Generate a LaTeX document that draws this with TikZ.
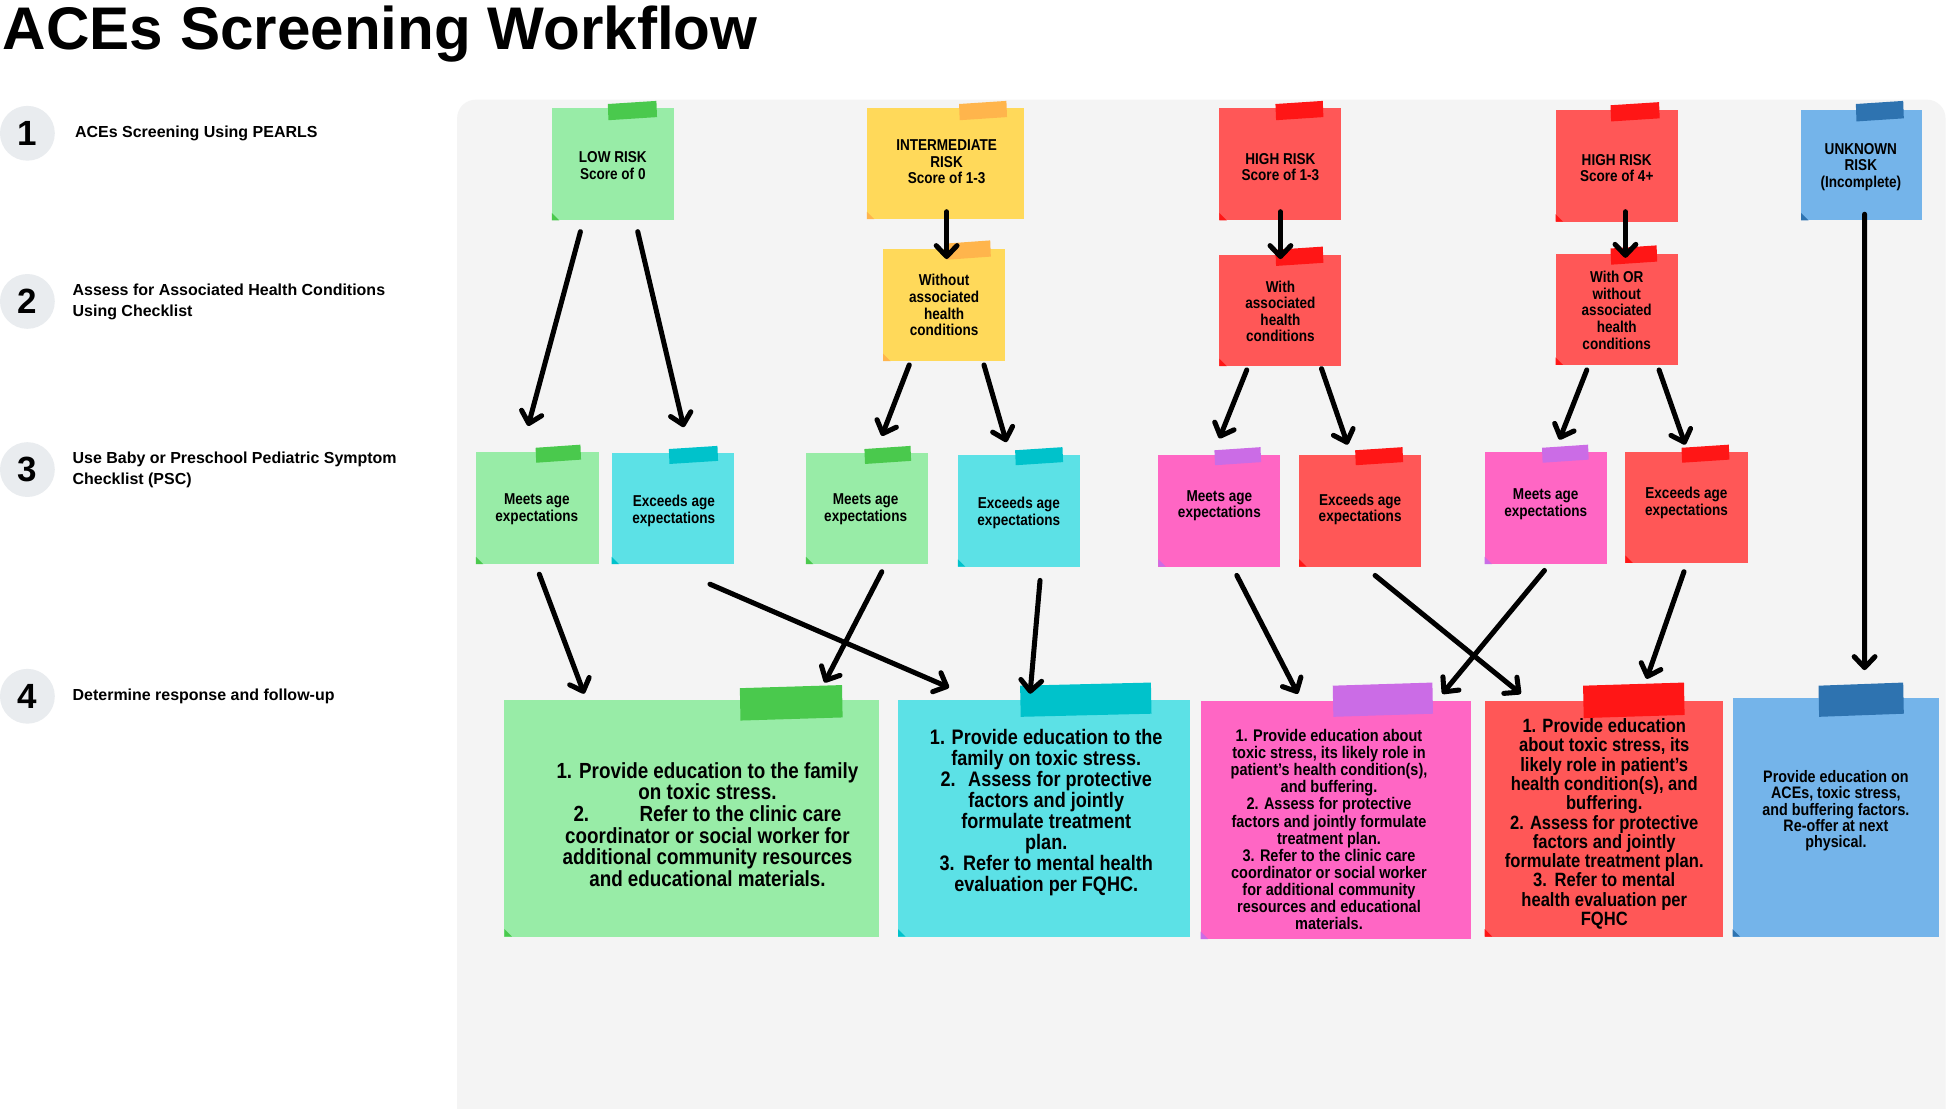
\documentclass[tikz,border=0pt]{standalone}
\usepackage{fontspec}
\setmainfont{Liberation Sans}
\newfontfamily\notefont[FakeStretch=0.86]{Liberation Sans}
\usetikzlibrary{arrows.meta,calc}
\definecolor{panel}{HTML}{F4F4F4}
\definecolor{circg}{HTML}{E9ECEF}
\definecolor{gnote}{HTML}{98ECA7}
\definecolor{gtape}{HTML}{4AC94D}
\definecolor{ynote}{HTML}{FFD95A}
\definecolor{otape}{HTML}{FFB54C}
\definecolor{rnote}{HTML}{FF5757}
\definecolor{rtape}{HTML}{FF1616}
\definecolor{cnote}{HTML}{5CE1E6}
\definecolor{ctape}{HTML}{00C2CB}
\definecolor{pnote}{HTML}{FF66C4}
\definecolor{ptape}{HTML}{CB6CE6}
\definecolor{bnote}{HTML}{74B4EA}
\definecolor{btape}{HTML}{2E73B0}
\newcommand\stickynote[7]{%
  \node[notebox, fill=#6, minimum width={(#4-#2)*0.02cm}, minimum height={(#5-#3)*0.02cm}] (#1) at ({(#2+#4)/2},{(#3+#5)/2}) {};
  \fill[#7] (#2,#5) -- (#2,#5-6) -- (#2+6,#5) -- cycle;}
\newcommand\tapestrip[5]{\fill[#5] (#1,#3+2.5) -- (#2,#3) -- (#2+0.5,#3+#4) -- (#1+0.5,#3+#4+2.5) -- cycle;}
\begin{document}
\begin{tikzpicture}[x=0.02cm,y=-0.02cm,
  notebox/.style={inner sep=0, outer sep=0, draw=none},
  ntxt/.style={inner sep=0, align=center, text=black},
  smalltxt/.style={ntxt, font=\notefont\bfseries\fontsize{7.2}{7.6}\selectfont},
  arr/.style={line width=2.3pt, line cap=round, -{Straight Barb[length=5pt,width=9.5pt,round]}},
  steplabel/.style={inner sep=0, anchor=west, align=left, font=\bfseries\fontsize{7.3}{9.6}\selectfont},
  badge/.style={circle, fill=circg, inner sep=0, minimum size=44*0.02cm, font=\bfseries\fontsize{16}{16}\selectfont}]
\fill[white] (0,0) rectangle (1568,890);
\useasboundingbox (0,0) rectangle (1568,890);
\fill[panel, rounded corners=0.3cm] (367,80) rectangle (1562,940);

% title
\node[anchor=base west, inner sep=0, font=\bfseries\fontsize{27.5}{30}\selectfont] (title) at (2,40) {ACEs Screening Workflow};

% steps
\node[badge] (c1) at (22,107) {1};
\node[badge] (c2) at (22,242) {2};
\node[badge] (c3) at (22,377) {3};
\node[badge] (c4) at (22,559) {4};
\node[steplabel] (s1) at (60,107) {ACEs Screening Using PEARLS};
\node[steplabel] (s2) at (58,242) {Assess for Associated Health Conditions\\Using Checklist};
\node[steplabel] (s3) at (58,377) {Use Baby or Preschool Pediatric Symptom\\Checklist (PSC)};
\node[steplabel] (s4) at (58,559) {Determine response and follow-up};

% row 1
\stickynote{low}{443}{87}{541}{177}{gnote}{gtape}
\tapestrip{488}{527}{81}{13}{gtape}
\stickynote{inter}{696}{87}{822}{176}{ynote}{otape}
\tapestrip{770}{808}{81}{13}{otape}
\stickynote{hr1}{979}{87}{1077}{177}{rnote}{rtape}
\tapestrip{1024}{1062}{81}{13}{rtape}
\stickynote{hr4}{1249}{88}{1347}{178}{rnote}{rtape}
\tapestrip{1293}{1332}{82}{13}{rtape}
\stickynote{unk}{1446}{88}{1543}{177}{bnote}{btape}
\tapestrip{1490}{1528}{81}{14}{btape}
% row 2
\stickynote{without}{709}{200}{807}{290}{ynote}{otape}
\tapestrip{760}{795}{193}{13}{otape}
\stickynote{with}{979}{205}{1077}{294}{rnote}{rtape}
\tapestrip{1024}{1062}{198}{13}{rtape}
\stickynote{withor}{1249}{204}{1347}{293}{rnote}{rtape}
\tapestrip{1293}{1330}{197}{13}{rtape}
% row 3
\stickynote{m1}{382}{363}{481}{453}{gnote}{gtape}
\tapestrip{430}{466}{357}{12}{gtape}
\stickynote{e1}{491}{364}{589}{453}{cnote}{ctape}
\tapestrip{537}{576}{358}{12}{ctape}
\stickynote{m2}{647}{364}{745}{453}{gnote}{gtape}
\tapestrip{694}{731}{358}{12}{gtape}
\stickynote{e2}{769}{365}{867}{455}{cnote}{ctape}
\tapestrip{815}{853}{359}{12}{ctape}
\stickynote{m3}{930}{365}{1028}{455}{pnote}{ptape}
\tapestrip{975}{1012}{359}{12}{ptape}
\stickynote{e3}{1043}{365}{1141}{455}{rnote}{rtape}
\tapestrip{1088}{1126}{359}{12}{rtape}
\stickynote{m4}{1192}{363}{1290}{453}{pnote}{ptape}
\tapestrip{1238}{1275}{357}{12}{ptape}
\stickynote{e4}{1305}{363}{1403}{452}{rnote}{rtape}
\tapestrip{1350}{1388}{357}{12}{rtape}
% row 4
\stickynote{r1}{405}{562}{706}{752}{gnote}{gtape}
\tapestrip{594}{676}{550}{26}{gtape}
\stickynote{r2}{721}{562}{955}{752}{cnote}{ctape}
\tapestrip{819}{924}{548}{25}{ctape}
\stickynote{r3}{964}{563}{1181}{754}{pnote}{ptape}
\tapestrip{1070}{1150}{548}{25}{ptape}
\stickynote{r4}{1192}{563}{1383}{752}{rnote}{rtape}
\tapestrip{1271}{1352}{548}{26}{rtape}
\stickynote{r5}{1391}{560}{1557}{752}{bnote}{btape}
\tapestrip{1460}{1528}{548}{25}{btape}

% texts
\node[smalltxt] (lowT) at (492,133) {LOW RISK\\Score of 0};
\node[smalltxt] (interT) at (760,130) {INTERMEDIATE\\RISK\\Score of 1-3};
\node[smalltxt] (hr1T) at (1028,134) {HIGH RISK\\Score of 1-3};
\node[smalltxt] (hr4T) at (1298,135) {HIGH RISK\\Score of 4+};
\node[smalltxt] (unkT) at (1494,134) {UNKNOWN\\RISK\\(Incomplete)};
\node[smalltxt] (withoutT) at (758,245) {Without\\associated\\health\\conditions};
\node[smalltxt] (withT) at (1028,250) {With\\associated\\health\\conditions};
\node[smalltxt] (withorT) at (1298,249) {With OR\\without\\associated\\health\\conditions};
\node[smalltxt] (m1T) at (431,409) {Meets age\\expectations};
\node[smalltxt] (e1T) at (541,410) {Exceeds age\\expectations};
\node[smalltxt] (m2T) at (695,409) {Meets age\\expectations};
\node[smalltxt] (e2T) at (818,412) {Exceeds age\\expectations};
\node[smalltxt] (m3T) at (979,406) {Meets age\\expectations};
\node[smalltxt] (e3T) at (1092,409) {Exceeds age\\expectations};
\node[smalltxt] (m4T) at (1241,405) {Meets age\\expectations};
\node[smalltxt] (e4T) at (1354,404) {Exceeds age\\expectations};

\node[ntxt, font=\notefont\bfseries\fontsize{10}{9.9}\selectfont] (r1T) at (568,662)
  {1. Provide education to the family\\on toxic stress.\\2.\hspace{2.3em}Refer to the clinic care\hspace*{1.5em}\\coordinator or social worker for\\additional community resources\\and educational materials.};
\node[ntxt, font=\notefont\bfseries\fontsize{9.6}{9.6}\selectfont] (r2T) at (840,652)
  {1. Provide education to the\\family on toxic stress.\\2.\hspace{0.6em}Assess for protective\\factors and jointly\\formulate treatment\\plan.\\3.\hspace{0.4em}Refer to mental health\\evaluation per FQHC.};
\node[ntxt, font=\notefont\bfseries\fontsize{7.7}{7.8}\selectfont] (r3T) at (1067,666)
  {1. Provide education about\\toxic stress, its likely role in\\patient’s health condition(s),\\and buffering.\\2. Assess for protective\\factors and jointly formulate\\treatment plan.\\3. Refer to the clinic care\\coordinator or social worker\\for additional community\\resources and educational\\materials.};
\node[ntxt, font=\notefont\bfseries\fontsize{8.8}{8.8}\selectfont] (r4T) at (1288,661.5)
  {1. Provide education\\about toxic stress, its\\likely role in patient’s\\health condition(s), and\\buffering.\\2. Assess for protective\\factors and jointly\\formulate treatment plan.\\3.\hspace{0.4em}Refer to mental\\health evaluation per\\FQHC};
\node[ntxt, font=\notefont\bfseries\fontsize{7.6}{7.5}\selectfont] (r5T) at (1474,651)
  {Provide education on\\ACEs, toxic stress,\\and buffering factors.\\Re-offer at next\\physical.};

% connectors
\draw[arr] ($(low.south)+(-26,9)$) -- ($(m1.north)+(-7.5,-21)$);
\draw[arr] ($(low.south)+(20,9)$) -- ($(e1.north)+(9,-21)$);
\draw[arr] ($(inter.south)+(1,-6)$) -- ($(without.north)+(2,8)$);
\draw[arr] ($(without.south)+(-28,3)$) -- ($(m2.north)+(12,-14)$);
\draw[arr] ($(without.south)+(32,3)$) -- ($(e2.north)+(-10,-10)$);
\draw[arr] ($(hr1.south)+(0,-7)$) -- ($(with.north)+(0,3)$);
\draw[arr] ($(with.south)+(-27,3)$) -- ($(m3.north)+(0,-13)$);
\draw[arr] ($(with.south)+(33,2)$) -- ($(e3.north)+(-10,-8)$);
\draw[arr] ($(hr4.south)+(7,-8)$) -- ($(withor.north)+(7,3)$);
\draw[arr] ($(withor.south)+(-24,4)$) -- ($(m4.north)+(11,-10)$);
\draw[arr] ($(withor.south)+(34,4)$) -- ($(e4.north)+(-1,-6)$);
\draw[arr] ($(unk.south)+(2.5,-5)$) -- ($(r5.north)+(23,-22)$);
\draw[arr] ($(m1.south)+(1.5,8)$) -- ($(r1.north)+(-86.5,-5)$);
\draw[arr] ($(e1.south)+(30,16)$) -- ($(r2.north)+(-76,-10)$);
\draw[arr] ($(m2.south)+(12,6)$) -- ($(r1.north)+(106.5,-14)$);
\draw[arr] ($(e2.south)+(17,11)$) -- ($(r2.north)+(-11,-5)$);
\draw[arr] ($(m3.south)+(14,7)$) -- ($(r3.north)+(-30.5,-6)$);
\draw[arr] ($(e3.south)+(12,7)$) -- ($(r4.north)+(-66.5,-6)$);
\draw[arr] ($(m4.south)+(-1,5)$) -- ($(r3.north)+(85.5,-6)$);
\draw[arr] ($(e4.south)+(-2,7)$) -- ($(r4.north)+(34.5,-18)$);
\end{tikzpicture}
\end{document}
